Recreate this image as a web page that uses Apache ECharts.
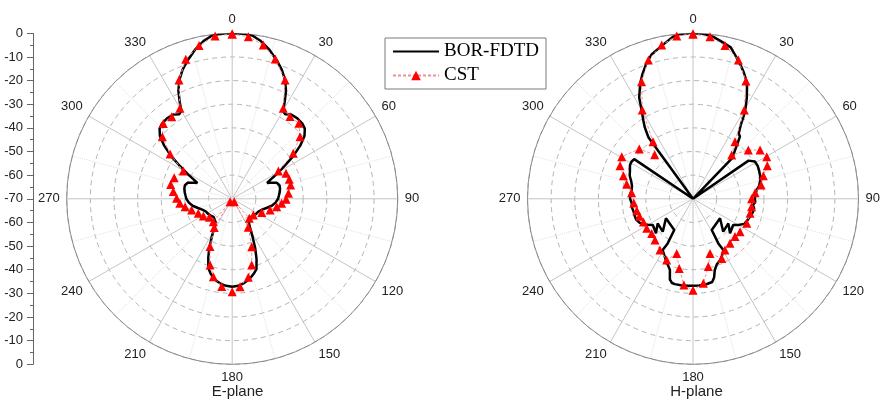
<!DOCTYPE html>
<html>
<head>
<meta charset="utf-8">
<script src="https://cdn.jsdelivr.net/npm/echarts@6/dist/echarts.min.js"></script>
<style>
    html, body { margin: 0; padding: 0; background: #fff; }
    #chart { width: 880px; height: 401px; }
</style>
</head>
<body>
<div id="chart"></div>
<script>
    // [angle (deg), level (dB)]
    var eFdtd = [
        [0, 0], [4, 0], [7, -0.4], [10, -2.0], [14, -5], [18, -8.6], [21, -11.5], [24, -15], [26.5, -19], [28.5, -23.5],
        [30, -27], [32, -27.8], [35, -26.5], [39, -26.2], [43, -26.5], [46, -27.3], [49, -29.5], [52, -33.5], [55, -38.5],
        [58, -44], [61, -48.5], [63.5, -52], [65.5, -53.8], [67, -52.5], [70, -50], [74, -49.2], [78, -49.3], [82, -49.7],
        [86, -50.2], [90, -50.6], [95, -51.6], [100, -53], [105, -55], [110, -56.5], [116, -57.7], [122, -58], [128, -58.5],
        [134, -59], [140, -58.5], [145, -57.8], [149, -55], [152, -51.5], [155, -47], [158, -42.5], [161, -38.5], [164, -37],
        [168, -35.2], [172, -34], [176, -33.1], [180, -32.8], [184, -33.1], [188, -33.8], [192, -35], [196, -37], [199, -39],
        [202, -43], [205, -47], [208, -51.5], [211, -55], [215, -57.8], [220, -58.5], [226, -59], [232, -58.5], [238, -58],
        [244, -57.7], [250, -56.5], [255, -55], [260, -53], [265, -51.6], [270, -50.6], [274, -50.2], [278, -49.7],
        [282, -49.3], [286, -49.2], [290, -50], [293, -52.5], [294.5, -53.8], [296.5, -52], [299, -48.5], [302, -44],
        [305, -38.5], [308, -33.5], [311, -29.5], [314, -27.3], [317, -26.5], [321, -26.2], [325, -26.5], [328, -27.8],
        [330, -27], [331.5, -23.5], [333.5, -19], [336, -15], [339, -11.5], [342, -8.6], [346, -5], [350, -2.0], [353, -0.4],
        [356, 0], [360, 0]
    ];
    var eCst = [
        [0, -0.3], [5.7, -1.1], [11.4, -3.6], [17.1, -8.1], [24, -15], [29.4, -26], [35.1, -27.5], [41.5, -27.4],
        [47.5, -31.1], [53.3, -37.8], [59, -47.2], [64.6, -44.8], [71.1, -44.5], [76.7, -44.6], [84.4, -46.1],
        [90.5, -47.2], [95.2, -49], [100, -50.9], [106.5, -53.3], [115, -56.2], [127.5, -58.7], [138.8, -59],
        [145, -68.5], [150.5, -56.2], [157.8, -48.1], [163.6, -40.8], [168.4, -36.1], [174.9, -32.7], [180, -30.7],
        [186.8, -32.6], [193.6, -36.1], [198.5, -40.5], [204.9, -47.7], [212.1, -55.7], [216, -68.5], [219.5, -57.4],
        [231, -57.6], [239.2, -55.8], [246.8, -54.4], [254.5, -52.2], [260.5, -49.8], [265.1, -47.8], [270.5, -46.5],
        [277, -44.9], [283, -43.3], [290, -43.9], [299.5, -46.2], [305.8, -37.6], [311.6, -30.5], [317.6, -26.8],
        [323.6, -26.9], [330, -25.8], [335.9, -14.9], [341.6, -7.8], [347.8, -3.7], [354, -0.8], [360, -0.3]
    ];
    var hFdtd = [
        [0, 0], [3, 0], [7, -0.9], [10, -2.3], [14, -4], [19, -9.3], [22, -12.5], [25, -15.9], [28, -21.5], [30, -25.5],
        [31.5, -29], [33, -33], [35, -36.3], [37, -37], [38.5, -39.5], [41, -43], [44, -46], [49, -70], [55.5, -41.5],
        [59, -39.4], [63, -39.3], [67, -39.6], [71, -40], [75, -40.6], [79, -41.5], [82, -42.8], [86, -43.5], [90, -43.9],
        [93, -43.6], [96, -44.5], [99, -43.8], [103, -44.1], [107, -44.7], [112, -45.3], [116, -45.8], [120, -47.9],
        [123, -49.7], [133, -48.6], [124.8, -51.8], [137.4, -51.1], [125.8, -55.9], [149, -54.6], [150.4, -48.3],
        [149.4, -44.8], [153, -43], [156, -41.7], [160, -40.5], [163, -38.5], [165, -35.5], [167, -33.9], [172, -33.3],
        [176, -33.2], [180, -33.2], [184, -33.1], [188, -33.1], [192, -33.1], [194, -33.3], [196, -34.5], [198, -38.4],
        [204, -41.7], [210.6, -44.8], [209.6, -48.3], [211, -54.6], [234.2, -55.9], [222.6, -51.1], [235.2, -51.8],
        [227, -48.6], [237, -49.7], [240, -48], [243, -46.2], [246, -45.2], [250, -44.4], [254, -44.3], [258, -44.3],
        [262, -43.9], [266, -44], [270, -43.4], [274, -43.3], [278, -43.8], [282, -43.6], [286, -42.8], [290, -41.5],
        [294, -40.8], [298, -39.8], [301, -39.6], [304, -40], [314, -70], [324, -38], [326, -33.5], [327.5, -31],
        [330, -26.5], [332, -21.5], [335.5, -16.2], [338, -13], [341, -9.4], [344, -6.5], [348, -4.2], [353, -0.9],
        [357, 0], [360, 0]
    ];
    var hCst = [
        [0, -0.3], [6, -1.1], [11.8, -3.8], [18.1, -8.2], [24.2, -15.4], [30, -26.6], [36.3, -40], [41.5, -45.3],
        [48.6, -38.8], [53.9, -34.9], [60.3, -34.1], [66, -35.6], [71.8, -38.7], [78.5, -40.6], [84.4, -43.6],
        [90, -45.2], [97.7, -45], [104.3, -45.1], [114.5, -45], [125, -45.7], [132, -46.1], [140.3, -45.5], [148, -44.5],
        [154.2, -42], [162.7, -45.8], [167.3, -40.6], [173, -34], [180, -31.3], [186, -33.3], [191.2, -40],
        [196.6, -45.9], [203.3, -41.8], [212.8, -44.2], [222.7, -46.3], [230, -47.2], [237.5, -46.8], [245, -46.9],
        [252, -46.2], [258, -45.7], [266, -44.9], [275.7, -43.9], [282.3, -41.3], [288.3, -39], [294.4, -36.1],
        [300.6, -35], [312.8, -39], [319, -45.3], [325, -40.5], [330.3, -26.7], [336.3, -15.9], [342.2, -8.3],
        [348.5, -3.6], [354.3, -0.8], [360, -0.3]
    ];
    var planeNames = ['E-plane', 'H-plane'];
    var legendNames = ['BOR-FDTD', 'CST'];

    var sans = 'Liberation Sans, Arial, sans-serif';
    var centers = [[232.2, 198.8], [693, 198.8]];
    var R = 165.5;

    function toPolar(arr) {
        return arr.map(function (p) { return [p[1], p[0]]; });
    }

    function angleAxis(i) {
        return {
            polarIndex: i, type: 'value', min: 0, max: 360, interval: 30,
            startAngle: 90, clockwise: true,
            axisLine: { lineStyle: { color: '#8a8a8a', width: 1 } },
            axisTick: { show: false },
            axisLabel: {
                color: '#222', fontSize: 13, fontFamily: sans, margin: 7,
                formatter: function (v) { return v === 360 ? '' : String(v); }
            },
            splitLine: { lineStyle: { color: '#c4c4c4', width: 1 } },
            minorTick: { show: false, splitNumber: 2 },
            minorSplitLine: { show: true, lineStyle: { color: '#e2e2e2', width: 1, type: 'dotted' } }
        };
    }

    function radiusAxis(i) {
        return {
            polarIndex: i, type: 'value', min: -70, max: 0, interval: 10,
            axisLine: { show: false }, axisTick: { show: false }, axisLabel: { show: false },
            splitLine: { lineStyle: { color: '#b4b4b4', width: 1, type: [5, 4] } }
        };
    }

    function sideAxis(i) {
        return {
            gridIndex: i, type: 'value', min: -70, max: 0, interval: 10, inverse: i === 1,
            axisLine: { show: true, onZero: false, lineStyle: { color: '#666' } },
            axisTick: { show: true, length: 6, lineStyle: { color: '#666' } },
            minorTick: { show: true, splitNumber: 2, length: 3, lineStyle: { color: '#666' } },
            axisLabel: { color: '#222', fontSize: 13, fontFamily: sans, margin: 10, showMinLabel: i === 0 },
            splitLine: { show: false }
        };
    }

    var chart = echarts.init(document.getElementById('chart'));
    chart.setOption({
        animation: false,
        backgroundColor: '#fff',
        polar: [
            { center: centers[0], radius: R },
            { center: centers[1], radius: R }
        ],
        angleAxis: [angleAxis(0), angleAxis(1)],
        radiusAxis: [radiusAxis(0), radiusAxis(1)],
        grid: [
            { left: 33, top: 33.3, width: 1, height: R },
            { left: 33, top: 198.8, width: 1, height: R }
        ],
        xAxis: [
            { gridIndex: 0, type: 'value', min: 0, max: 1, show: false },
            { gridIndex: 1, type: 'value', min: 0, max: 1, show: false }
        ],
        yAxis: [sideAxis(0), sideAxis(1)],
        legend: {
            data: [{ name: legendNames[0], itemStyle: { opacity: 0 } }, legendNames[1]],
            orient: 'vertical', left: 385, top: 38,
            itemWidth: 46, itemHeight: 12, itemGap: 5, padding: [4, 7, 4, 7],
            borderColor: '#7a7a7a', borderWidth: 1,
            textStyle: { fontFamily: 'Liberation Serif, Times New Roman, serif', fontSize: 19, color: '#000' }
        },
        graphic: planeNames.map(function (t, i) {
            return {
                type: 'text', x: [237.5, 696.5][i], y: 384,
                style: { text: t, fill: '#222', font: '15px ' + sans, align: 'center', verticalAlign: 'top' }
            };
        }),
        series: [
            {
                name: legendNames[0], type: 'line', coordinateSystem: 'polar', polarIndex: 0,
                data: toPolar(eFdtd), symbol: 'none', z: 3,
                lineStyle: { color: '#000', width: 2.5 }, itemStyle: { color: '#000' }
            },
            {
                name: legendNames[0], type: 'line', coordinateSystem: 'polar', polarIndex: 1,
                data: toPolar(hFdtd), symbol: 'none', z: 3,
                lineStyle: { color: '#000', width: 2.5 }, itemStyle: { color: '#000' }
            },
            {
                name: legendNames[1], type: 'line', coordinateSystem: 'polar', polarIndex: 0,
                data: toPolar(eCst), symbol: 'triangle', symbolSize: 9, z: 4,
                lineStyle: { color: '#f09090', width: 1, type: [3, 2] }, itemStyle: { color: '#ff0000' }
            },
            {
                name: legendNames[1], type: 'line', coordinateSystem: 'polar', polarIndex: 1,
                data: toPolar(hCst), symbol: 'triangle', symbolSize: 9, z: 4,
                lineStyle: { color: '#f09090', width: 1, type: [3, 2] }, itemStyle: { color: '#ff0000' }
            }
        ]
    });
</script>
</body>
</html>
